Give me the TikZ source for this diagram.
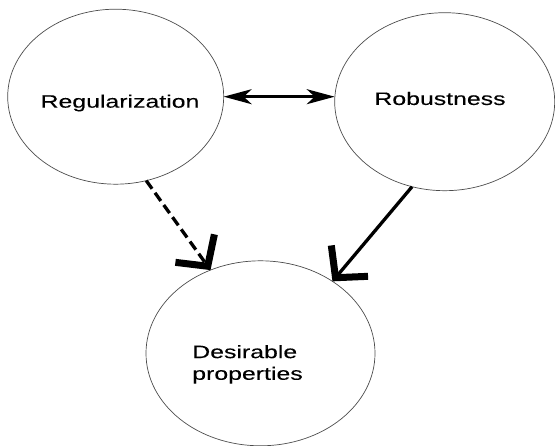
\documentclass[tikz,border=0pt]{standalone}
\usepackage{fontspec}
\newfontfamily\diagramfont{Liberation Sans}[FakeStretch=1.38,FakeBold=0.15]
\usetikzlibrary{arrows.meta,shapes.geometric,positioning}

\begin{document}
\begin{tikzpicture}
	[ x=1pt, y=-1pt,
		concept/.style={ellipse,draw=black!70,line width=0.7pt,inner sep=0pt,outer sep=0pt},
		conceptText/.style={font={\diagramfont\fontsize{18}{21.7}\selectfont},align=left,inner sep=0pt},
		arrowBoth/.style={{Stealth[length=28pt,width=15pt,inset=8pt]}-{Stealth[length=28pt,width=15pt,inset=8pt]},line width=2.7pt},
		arrowOut/.style={-{Straight Barb[length=22pt,width=48pt,line width=7pt]},line width=3.3pt},
		arrowMaybe/.style={arrowOut,dash pattern=on 10pt off 5pt}]

	\useasboundingbox (0,0) rectangle (555,446);

	\node[concept,minimum width=216pt,minimum height=175pt] (reg) at (115.7,96.7) {};
	\node[concept,minimum width=220pt,minimum height=178pt] (rob) at (444.7,101.7) {};
	\node[concept,minimum width=229pt,minimum height=185pt] (des) at (260.5,353.3) {};

	% texts sit a little off the ellipse centres
	\node[conceptText] (regText) at ([shift={(4.3,6.3)}]reg.center) {Regularization};
	\node[conceptText] (robText) at ([shift={(-4.7,-3.2)}]rob.center) {Robustness};
	\node[conceptText] (desText) at ([shift={(-13,11)}]des.center) {Desirable\\properties};

	\draw[arrowBoth] (reg.east) -- (reg.east -| rob.west);
	\draw[arrowMaybe] (reg.-70) -- (des.121);
	\draw[arrowOut] (rob.-111) -- (des.45);
\end{tikzpicture}
\end{document}
